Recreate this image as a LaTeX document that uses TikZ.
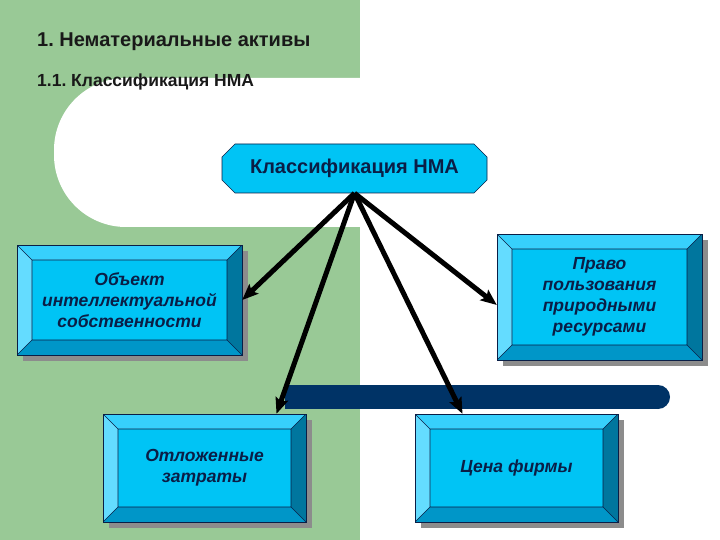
\documentclass[tikz,border=0pt]{standalone}
\usepackage{fontspec}
\setmainfont{Liberation Sans}
\usetikzlibrary{arrows.meta,shadows}
\frenchspacing
\definecolor{slidegreen}{RGB}{153,201,150}
\definecolor{face}{RGB}{0,196,245}
\definecolor{bevtop}{RGB}{55,208,252}
\definecolor{bevleft}{RGB}{100,220,255}
\definecolor{bevright}{RGB}{0,118,158}
\definecolor{bevbottom}{RGB}{0,150,200}
\definecolor{navy}{RGB}{10,30,70}
\definecolor{barblue}{RGB}{0,51,102}
\tikzset{
  bevelbox/.style={draw=navy, fill=face, text=navy, align=center,
    font=\fontsize{17.5}{21}\selectfont\bfseries\itshape,
    drop shadow={shadow xshift=6pt, shadow yshift=-6pt, fill=gray!90, opacity=1},
    path picture={
      \coordinate (o1) at (path picture bounding box.north west);
      \coordinate (o2) at (path picture bounding box.north east);
      \coordinate (o3) at (path picture bounding box.south east);
      \coordinate (o4) at (path picture bounding box.south west);
      \coordinate (i1) at ([shift={(15pt,-15pt)}]o1);
      \coordinate (i2) at ([shift={(-15pt,-15pt)}]o2);
      \coordinate (i3) at ([shift={(-15pt,15pt)}]o3);
      \coordinate (i4) at ([shift={(15pt,15pt)}]o4);
      \fill[bevtop] (o1) -- (o2) -- (i2) -- (i1) -- cycle;
      \fill[bevleft] (o1) -- (i1) -- (i4) -- (o4) -- cycle;
      \fill[bevright] (o2) -- (i2) -- (i3) -- (o3) -- cycle;
      \fill[bevbottom] (o4) -- (i4) -- (i3) -- (o3) -- cycle;
      \draw[navy, line width=0.6pt] (o1) -- (i1) (o2) -- (i2) (o3) -- (i3) (o4) -- (i4)
        (i1) -- (i2) -- (i3) -- (i4) -- cycle;
    }},
  headbox/.style={text=navy, inner sep=0pt, font=\fontsize{20}{24}\selectfont\bfseries},
  arr/.style={line width=5pt, -{Stealth[length=16pt, width=13pt, inset=3pt]}},
  slidetext/.style={anchor=base west, inner sep=0pt, text=black!90}
}
\begin{document}
\begin{tikzpicture}[x=1pt, y=-1pt]
\useasboundingbox (0,0) rectangle (720,540);
\fill[slidegreen] (0,0) rectangle (360,540);
\fill[white] (360,78) [rounded corners=72pt] -- (54,78) -- (54,227) [sharp corners] -- (360,227) -- cycle;
\node[slidetext, font=\fontsize{20}{24}\selectfont\bfseries] (title) at (37,47) {1. Нематериальные активы};
\node[slidetext, font=\fontsize{17.5}{21}\selectfont\bfseries] (subtitle) at (37,87) {1.1. Классификация НМА};
\fill[barblue] (285,385) rectangle (658,409);
\fill[barblue] (658,397) circle (12pt);
\filldraw[navy, fill=face, line width=0.6pt] (222,157) -- (235,144) -- (474,144) -- (487,157)
  -- (487,180) -- (474,193) -- (235,193) -- (222,180) -- cycle;
\node[headbox, minimum width=265pt, minimum height=49pt] (nma) at (354.5,168.5) {Классификация НМА};
\node[bevelbox, minimum width=225pt, minimum height=110pt] (object) at (129.5,300) {Объект\\интеллектуальной\\собственности};
\node[bevelbox, minimum width=205pt, minimum height=126pt] (nature) at (599.5,297) {Право\\пользования\\природными\\ресурсами};
\node[bevelbox, minimum width=203pt, minimum height=108pt] (deferred) at (204.5,468) {Отложенные\\затраты};
\node[bevelbox, minimum width=203pt, minimum height=108pt] (price) at (516.5,468) {Цена фирмы};
\draw[arr] (nma.south) -- (object.east);
\draw[arr] (nma.south) -- ([yshift=-8pt]nature.west);
\draw[arr] (nma.south) -- ([xshift=72pt]deferred.north);
\draw[arr] (nma.south) -- ([xshift=-54pt]price.north);
\end{tikzpicture}
\end{document}
